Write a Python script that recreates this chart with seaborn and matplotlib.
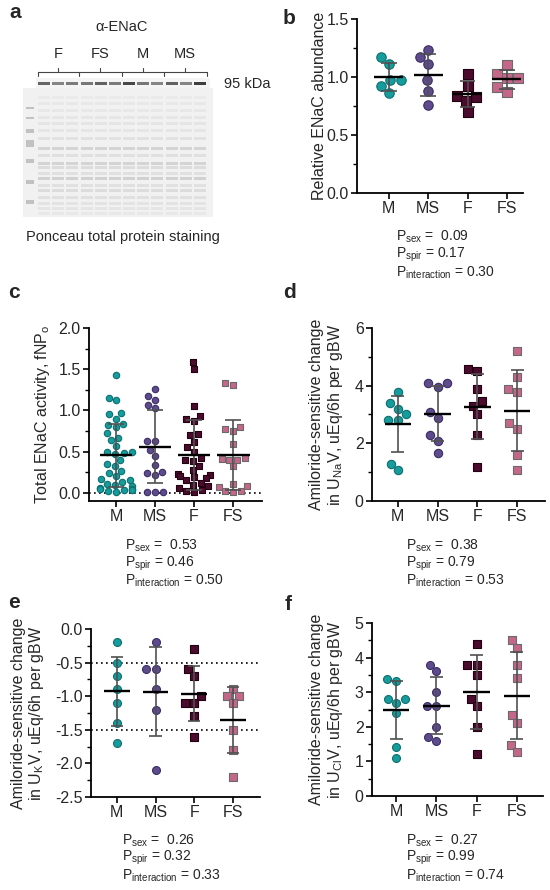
import numpy as np
import pandas as pd
import matplotlib
matplotlib.use("Agg")
import matplotlib.pyplot as plt
import seaborn as sns
from matplotlib.ticker import MultipleLocator

sns.set_style("ticks")
plt.rcParams["font.family"] = ["Liberation Sans", "DejaVu Sans"]
plt.rcParams["mathtext.fontset"] = "custom"
plt.rcParams["mathtext.rm"] = "Liberation Sans"
plt.rcParams["axes.unicode_minus"] = True

groups = ["M", "MS", "F", "FS"]

# ---- panel b: relative ENaC abundance
b_M = [1.17, 1.11, 0.97, 0.97, 0.92, 0.86]
b_MS = [1.23, 1.17, 1.11, 0.97, 0.88, 0.76]
b_F = [1.03, 0.92, 0.84, 0.83, 0.79, 0.70]
b_FS = [1.10, 1.03, 0.99, 0.99, 0.91, 0.87]

# ---- panel c: total ENaC activity fNPo
c_M = [1.43, 1.15, 1.12, 0.97, 0.95, 0.90, 0.84, 0.82, 0.80, 0.72, 0.67, 0.64,
       0.57, 0.50, 0.49, 0.48, 0.47, 0.40, 0.35, 0.33, 0.27, 0.24, 0.20, 0.17,
       0.15, 0.13, 0.11, 0.10, 0.08, 0.06, 0.05, 0.04, 0.03, 0.03, 0.02, 0.01]
c_MS = [1.26, 1.18, 1.13, 1.07, 1.03, 0.63, 0.63, 0.52, 0.45, 0.34, 0.25, 0.24,
        0.22, 0.01, 0.01, 0.01]
c_F = [1.59, 1.50, 1.05, 0.93, 0.89, 0.87, 0.71, 0.70, 0.62, 0.55, 0.50, 0.42,
       0.40, 0.38, 0.33, 0.28, 0.23, 0.21, 0.19, 0.20, 0.18, 0.15, 0.12, 0.10,
       0.08, 0.06, 0.03, 0.02, 0.01]
c_FS = [1.33, 1.31, 0.80, 0.77, 0.75, 0.59, 0.42, 0.41, 0.40, 0.40, 0.32, 0.11,
        0.08, 0.07, 0.02, 0.02, 0.01]

# ---- panel d: amiloride-sensitive change in UNaV
d_M = [3.79, 3.39, 3.19, 3.00, 2.81, 2.81, 1.30, 1.07]
d_MS = [4.08, 4.08, 3.97, 3.10, 2.89, 2.29, 2.08, 1.68]
d_F = [4.58, 4.50, 3.88, 3.48, 3.30, 3.00, 2.29, 1.18]
d_FS = [5.19, 4.29, 3.88, 3.79, 2.69, 2.50, 1.59, 1.07]

# ---- panel e: amiloride-sensitive change in UKV
e_M = [-0.2, -0.5, -0.7, -0.9, -1.1, -1.4, -1.7]
e_MS = [-0.2, -0.6, -0.6, -0.9, -1.2, -2.1]
e_F = [-0.3, -0.6, -0.7, -1.0, -1.1, -1.1, -1.3, -1.6]
e_FS = [-0.9, -1.0, -1.0, -1.1, -1.5, -1.8, -2.2]

# ---- panel f: amiloride-sensitive change in UClV
f_M = [3.39, 3.31, 2.80, 2.80, 2.68, 2.39, 1.41, 1.11]
f_MS = [3.80, 3.60, 3.00, 2.60, 2.60, 2.00, 1.70, 1.60]
f_F = [4.40, 3.80, 3.80, 3.50, 2.80, 2.60, 2.00, 1.20]
f_FS = [4.50, 4.28, 3.80, 3.40, 2.35, 2.12, 1.48, 1.28]

p_b = ["0.09", "0.17", "0.30"]
p_c = ["0.53", "0.46", "0.50"]
p_d = ["0.38", "0.79", "0.53"]
p_e = ["0.26", "0.32", "0.33"]
p_f = ["0.27", "0.99", "0.74"]

blot_lanes = ["F", "FS", "M", "MS"]
band_alpha = [0.70, 0.55, 0.60, 0.62, 0.72, 0.60, 0.85, 0.62, 0.55, 0.72, 0.55, 0.90]

colors = {"M": "#169c9c", "MS": "#5d4b8c", "F": "#4b0b2c", "FS": "#c5678a"}
edges = {"M": "#0d6f6f", "MS": "#3b2d66", "F": "#230011", "FS": "#6a6a6a"}
markers = {"M": "o", "MS": "o", "F": "s", "FS": "s"}

W, H = 550, 890
fig = plt.figure(figsize=(W / 100, H / 100), dpi=100)


def rect(l, t, r, b):
    return [l / W, 1 - b / H, (r - l) / W, (b - t) / H]


def panel(ax, data, ylim, major, minor, xlim, size, ylabel, pvals, label_x,
          mean_hw=0.33, cap_hw=0.16, fmt=None):
    df = pd.DataFrame([(g, v) for g in groups for v in data[g]],
                      columns=["group", "value"])
    for g in groups:
        sns.swarmplot(data=df[df.group == g], x="group", y="value", order=groups,
                      color=colors[g], marker=markers[g], size=size,
                      edgecolor=edges[g], linewidth=0.8, ax=ax, warn_thresh=1,
                      zorder=2)
    for i, g in enumerate(groups):
        v = np.asarray(data[g])
        m, s = v.mean(), v.std(ddof=1)
        ax.vlines(i, m - s, m + s, color="#505050", lw=1.2, zorder=3)
        ax.hlines([m - s, m + s], i - cap_hw, i + cap_hw, color="#505050",
                  lw=1.2, zorder=3)
        ax.hlines(m, i - mean_hw, i + mean_hw, color="black", lw=1.7, zorder=4)
    ax.set_xlim(*xlim)
    ax.set_ylim(*ylim)
    ax.yaxis.set_major_locator(MultipleLocator(major))
    ax.yaxis.set_minor_locator(MultipleLocator(minor))
    if fmt:
        ax.yaxis.set_major_formatter(fmt)
    ax.set_xticks(range(4))
    ax.set_xticklabels(groups)
    ax.set_xlabel("")
    ax.set_ylabel(ylabel, fontsize=11.5, va="center", linespacing=1.1)
    ax.yaxis.set_label_coords(label_x, 0.5)
    sns.despine(ax=ax)
    for sp in ("left", "bottom"):
        ax.spines[sp].set_linewidth(1.3)
        ax.spines[sp].set_color("black")
    ax.tick_params(which="major", length=4, width=1.2, labelsize=11.5,
                   color="black", pad=2)
    ax.tick_params(which="minor", length=3, width=1.0, color="black")
    ax.tick_params(axis="x", which="minor", length=0)
    names = ["sex", "spir", "interaction"]
    seps = [" =  ", " = ", " = "]
    return [f"P$_\\mathregular{{{n}}}$" + s + p for n, s, p in zip(names, seps, pvals)]


def ptext(lines, x, ys):
    for line, y in zip(lines, ys):
        fig.text(x / W, 1 - y / H, line, fontsize=10, ha="left", va="center")


# ---------------- panel a (blot illustration) ----------------
axa = fig.add_axes([0, 1 - 260 / H, 275 / W, 260 / H])
axa.set_xlim(0, 275)
axa.set_ylim(260, 0)
axa.axis("off")
axa.text(122, 27, "\u03b1-ENaC", ha="center", va="center", fontsize=10.5)
group_centers = [58, 100, 143, 185]
bounds = [38, 79, 122, 164, 207]
for gname, cx in zip(blot_lanes, group_centers):
    axa.text(cx, 54, gname, ha="center", va="center", fontsize=10.5)
    axa.plot([cx, cx], [72, 68], color="#444", lw=0.8)
axa.plot([bounds[0], bounds[-1]], [72, 72], color="#444", lw=0.8)
for bx in bounds:
    axa.plot([bx, bx], [72, 76], color="#444", lw=0.8)
lane_x = np.linspace(44, 200, 12)
axa.add_patch(plt.Rectangle((36, 78), 174, 10, color="#f4f4f4", lw=0))
for lx, a in zip(lane_x, band_alpha):
    axa.add_patch(plt.Rectangle((lx - 6, 81.5), 12, 3.0, color="#2a2a2a", alpha=a, lw=0))
axa.text(224, 84, "95 kDa", ha="left", va="center", fontsize=10.5)
axa.add_patch(plt.Rectangle((23, 88), 190, 129, color="#f1f1f1", lw=0))
rows = [97, 103, 110, 117, 123, 130, 138, 148, 155, 163, 167, 173, 178, 185,
        190, 197, 203, 208, 213]
row_a = [0.06, 0.08, 0.08, 0.09, 0.1, 0.1, 0.14, 0.25, 0.15, 0.25, 0.18, 0.15,
         0.28, 0.15, 0.18, 0.15, 0.12, 0.1, 0.08]
for lx in lane_x:
    for ry, ra in zip(rows, row_a):
        axa.add_patch(plt.Rectangle((lx - 6, ry - 1.5), 12, 3.0, color="#808080",
                                    alpha=ra, lw=0))
for ly, ls in zip([108, 118, 131, 143, 161, 182, 202], [1.0, 1.0, 1.8, 3.5, 2.3, 1.6, 2.3]):
    axa.add_patch(plt.Rectangle((26, ly - ls), 8, 2 * ls, color="#b5b5b5",
                                alpha=0.8, lw=0))
axa.text(123, 237, "Ponceau total protein staining", ha="center", va="center",
         fontsize=10.5)

# ---------------- panel b ----------------
axb = fig.add_axes(rect(357, 19, 523, 193))
lines = panel(axb, {"M": b_M, "MS": b_MS, "F": b_F, "FS": b_FS}, (0, 1.5), 0.5,
              0.25, (-0.81, 3.41), 6.8, "Relative ENaC abundance", p_b, -0.225,
              mean_hw=0.37, cap_hw=0.2,
              fmt=matplotlib.ticker.FormatStrFormatter("%.1f"))
ptext(lines, 396, [237, 255, 273])

# ---------------- panel c ----------------
axc = fig.add_axes(rect(89, 328, 262, 501))
axc.axhline(0, color="black", lw=1.2, ls=(0, (1, 2)), zorder=1)
lines = panel(axc, {"M": c_M, "MS": c_MS, "F": c_F, "FS": c_FS}, (-0.1, 2.0), 0.5,
              0.25, (-0.69, 3.74), 4.6, "Total ENaC activity, fNP$_\\mathregular{o}$",
              p_c, -0.27, mean_hw=0.42, cap_hw=0.2,
              fmt=matplotlib.ticker.FormatStrFormatter("%.1f"))
ptext(lines, 125, [546, 564, 581])

# ---------------- panel d ----------------
axd = fig.add_axes(rect(372, 328, 545, 501))
lines = panel(axd, {"M": d_M, "MS": d_MS, "F": d_F, "FS": d_FS}, (0, 6), 2, 1,
              (-0.65, 3.7), 6.0,
              "Amiloride-sensitive change\nin U$_\\mathregular{Na}$V, uEq/6h per gBW",
              p_d, -0.26)
ptext(lines, 406, [546, 564, 581])

# ---------------- panel e ----------------
axe = fig.add_axes(rect(91, 629, 260, 797))
for yv in (-0.5, -1.5):
    axe.axhline(yv, color="black", lw=1.2, ls=(0, (1, 2)), zorder=1)
lines = panel(axe, {"M": e_M, "MS": e_MS, "F": e_F, "FS": e_FS}, (-2.5, 0), 0.5,
              0.25, (-0.67, 3.7), 5.7,
              "Amiloride-sensitive change\nin U$_\\mathregular{K}$V, uEq/6h per gBW",
              p_e, -0.37, fmt=matplotlib.ticker.FormatStrFormatter("%.1f"))
ptext(lines, 122, [841, 858, 876])

# ---------------- panel f ----------------
axf = fig.add_axes(rect(372, 623, 543, 796))
lines = panel(axf, {"M": f_M, "MS": f_MS, "F": f_F, "FS": f_FS}, (0, 5), 1, 0.5,
              (-0.6, 3.65), 5.7,
              "Amiloride-sensitive change\nin U$_\\mathregular{Cl}$V, uEq/6h per gBW",
              p_f, -0.263)
ptext(lines, 406, [841, 858, 876])

# panel letters
for letter, (x, y) in zip("abcdef", [(15, 13), (289, 18), (14, 292), (289, 292),
                                     (14, 602), (288, 605)]):
    fig.text(x / W, 1 - y / H, letter, fontsize=15, fontweight="bold",
             ha="center", va="center")

fig.savefig("out.png", dpi=100)
